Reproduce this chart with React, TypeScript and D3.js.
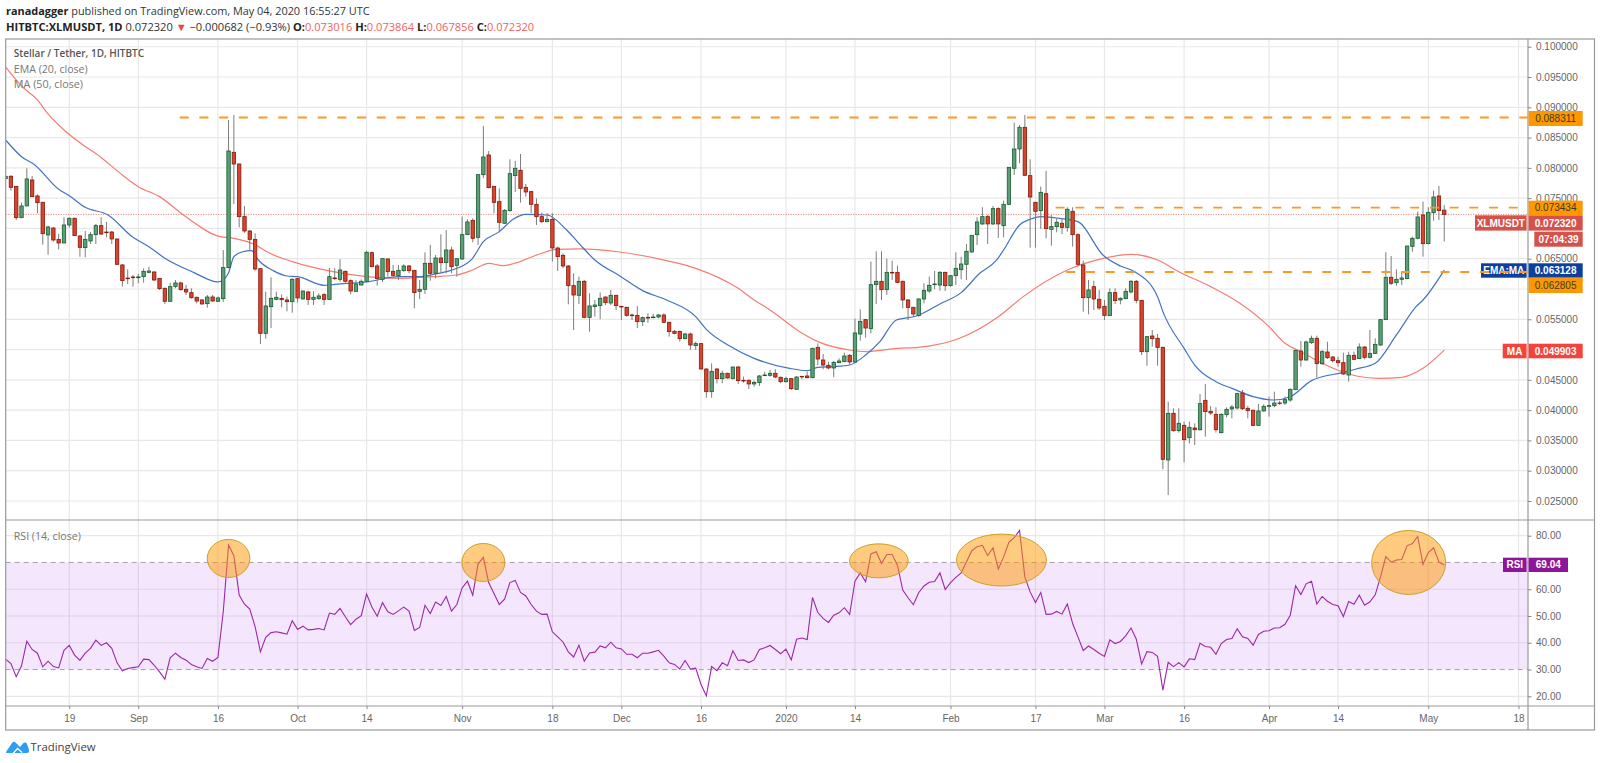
import React, { useEffect, useRef } from 'react';
import * as d3 from 'd3';

const WIDTH = 1600;
const HEIGHT = 763;

// candles run from day -12 (7 Aug 2019) to day 259 (4 May 2020); prices in thousandths of USDT
const FIRST_DAY = -12;

const opens = [
  78.22, 78.61, 76.95, 71.78, 73.71, 78.0, 75.36, 74.31, 68.92, 70.07,
  68.2, 67.6, 70.57, 71.67, 68.75, 66.83, 67.93, 68.97, 70.46, 69.41,
  69.41, 68.26, 63.97, 61.8, 61.98, 61.87, 62.04, 62.75, 62.81, 61.76,
  60.11, 57.97, 60.44, 61.0, 59.95, 59.4, 58.63, 58.19, 57.58, 58.68,
  57.97, 58.41, 63.53, 82.57, 80.64, 71.95, 69.58, 68.2, 63.36, 52.68,
  57.09, 58.29, 58.46, 58.19, 57.91, 61.71, 58.35, 59.51, 58.29, 58.41,
  59.07, 58.29, 61.82, 61.6, 62.92, 61.38, 59.62, 60.66, 61.27, 66.0,
  63.8, 61.6, 64.96, 62.92, 62.2, 63.03, 63.8, 63.08, 59.62, 59.95,
  64.24, 62.59, 65.12, 64.35, 66.44, 63.91, 64.96, 68.97, 71.34, 68.53,
  78.88, 82.13, 76.95, 74.42, 70.85, 72.94, 78.72, 79.6, 76.79, 76.07,
  73.98, 71.95, 71.12, 71.51, 66.77, 65.56, 63.8, 60.55, 58.96, 61.27,
  55.32, 57.09, 57.25, 58.68, 57.69, 58.96, 57.14, 56.97, 55.7, 55.65,
  54.61, 55.32, 55.27, 55.38, 55.71, 54.5, 53.01, 53.01, 51.8, 52.57,
  50.65, 50.98, 46.79, 43.05, 46.79, 45.2, 46.08, 45.2, 47.12, 44.92,
  44.92, 44.32, 44.54, 45.69, 45.75, 46.08, 45.42, 44.7, 45.2, 43.44,
  45.58, 45.64, 45.36, 50.37, 48.28, 47.4, 46.96, 47.84, 48.0, 49.05,
  47.95, 52.57, 54.94, 53.45, 60.72, 61.27, 59.89, 62.75, 62.75, 61.27,
  58.19, 56.97, 55.6, 58.35, 59.67, 60.72, 60.66, 62.75, 60.55, 62.2,
  63.19, 64.08, 66.11, 68.97, 70.74, 71.95, 70.74, 73.27, 70.46, 73.98,
  79.93, 83.12, 86.7, 78.72, 74.31, 72.94, 75.74, 69.85, 70.3, 70.85,
  70.18, 72.83, 68.97, 63.97, 58.57, 60.39, 58.3, 57.14, 55.6, 59.4,
  58.19, 58.41, 59.51, 61.27, 58.13, 49.65, 52.24, 51.86, 50.37, 31.77,
  39.47, 36.61, 37.49, 35.45, 37.05, 36.77, 41.62, 39.8, 39.31, 36.28,
  39.25, 40.19, 40.35, 42.83, 40.3, 39.97, 37.49, 39.86, 40.63, 40.74,
  41.18, 41.18, 41.67, 43.38, 49.76, 48.28, 51.14, 51.86, 47.67, 49.6,
  48.77, 48.17, 47.84, 45.8, 49.05, 48.5, 50.42, 48.72, 49.38, 50.75,
  54.94, 61.93, 61.05, 61.6, 61.71, 67.05, 68.37, 72.22, 67.49, 72.6,
  75.36, 73.016
];

const highs = [
  78.61, 78.8, 76.95, 74.26, 79.93, 78.66, 75.63, 74.4, 70.46, 70.2,
  69.08, 71.84, 71.84, 71.8, 68.9, 69.58, 69.41, 70.73, 71.84, 71.07,
  69.58, 68.3, 64.1, 63.25, 62.31, 62.48, 63.41, 63.69, 62.92, 61.8,
  60.28, 61.05, 61.49, 61.21, 60.66, 60.11, 58.74, 58.3, 59.01, 59.01,
  58.74, 66.44, 87.91, 88.73, 80.7, 73.71, 69.74, 69.19, 63.4, 59.56,
  61.93, 59.56, 59.12, 58.74, 61.76, 61.82, 59.73, 59.73, 59.62, 59.29,
  59.29, 63.47, 63.41, 64.9, 63.03, 61.6, 61.49, 61.6, 66.33, 66.17,
  64.13, 65.07, 65.07, 63.97, 63.97, 64.08, 63.97, 63.14, 61.49, 66.06,
  67.27, 65.62, 69.03, 69.74, 66.99, 65.07, 71.95, 71.51, 71.67, 78.9,
  86.92, 82.79, 76.95, 76.62, 73.21, 81.41, 81.14, 82.29, 77.34, 76.24,
  74.97, 72.61, 72.5, 72.5, 66.99, 65.89, 63.97, 62.59, 62.04, 61.49,
  59.29, 58.19, 59.4, 58.74, 59.84, 59.01, 57.2, 57.09, 55.98, 57.2,
  55.43, 55.98, 55.87, 55.87, 55.98, 54.61, 53.23, 53.12, 52.79, 52.79,
  51.31, 51.03, 46.9, 47.73, 46.9, 46.52, 46.19, 47.18, 47.29, 45.53,
  45.09, 44.87, 45.8, 46.35, 46.63, 46.74, 45.53, 45.53, 45.31, 45.58,
  45.64, 46.35, 50.31, 51.03, 49.27, 48.0, 48.11, 48.55, 49.49, 49.27,
  55.1, 56.64, 55.05, 64.52, 66.22, 66.22, 65.01, 64.68, 63.85, 61.38,
  58.3, 57.09, 58.46, 60.94, 62.04, 62.97, 62.97, 62.86, 62.31, 66.06,
  65.34, 67.43, 68.92, 71.84, 73.49, 72.22, 73.71, 73.49, 74.59, 80.09,
  87.47, 87.08, 88.73, 81.41, 74.42, 76.9, 79.49, 72.22, 71.67, 71.51,
  73.49, 73.49, 69.19, 64.68, 61.49, 61.38, 59.84, 58.19, 60.11, 60.11,
  58.63, 60.11, 61.49, 61.49, 58.19, 52.24, 53.23, 52.57, 50.48, 41.4,
  40.3, 40.3, 38.1, 38.1, 37.82, 42.66, 44.31, 40.68, 40.46, 39.47,
  40.46, 40.85, 42.88, 43.32, 40.68, 40.13, 41.01, 40.96, 42.22, 43.05,
  41.56, 42.22, 43.6, 49.93, 51.41, 51.47, 52.3, 52.3, 49.93, 51.3,
  48.94, 48.83, 49.49, 49.65, 49.65, 51.03, 50.59, 53.23, 51.86, 55.0,
  66.06, 65.45, 63.25, 62.86, 67.1, 68.64, 72.77, 74.42, 73.49, 76.24,
  77.01, 73.864
];

const lows = [
  78.1, 76.24, 71.4, 71.7, 73.7, 75.25, 72.5, 67.32, 65.67, 67.82,
  66.55, 67.6, 70.13, 68.8, 65.34, 65.23, 67.43, 67.43, 68.92, 68.53,
  67.43, 63.97, 60.39, 60.83, 60.39, 60.94, 61.05, 62.59, 61.32, 59.84,
  57.53, 57.86, 60.11, 59.73, 59.01, 58.41, 57.64, 57.42, 56.92, 57.86,
  57.91, 57.86, 63.41, 74.04, 70.18, 69.3, 66.44, 63.03, 50.92, 51.8,
  53.56, 58.19, 56.97, 56.31, 56.09, 57.75, 58.29, 57.36, 57.36, 58.19,
  57.36, 58.19, 61.49, 61.21, 61.05, 59.12, 59.51, 60.61, 61.16, 63.58,
  60.55, 61.16, 62.04, 62.04, 61.49, 62.86, 62.59, 56.81, 58.35, 59.18,
  61.38, 61.76, 62.7, 62.59, 62.59, 62.04, 64.79, 68.92, 67.71, 67.27,
  78.33, 76.62, 72.5, 69.36, 70.74, 72.77, 76.02, 74.26, 75.25, 72.5,
  70.57, 70.85, 71.01, 64.52, 62.97, 63.41, 57.47, 53.23, 57.53, 55.16,
  52.96, 55.43, 55.0, 57.36, 57.36, 56.53, 54.88, 55.43, 54.88, 53.56,
  53.89, 54.44, 55.16, 55.16, 54.44, 52.13, 52.52, 51.31, 51.69, 49.93,
  49.93, 46.74, 42.06, 42.06, 44.43, 44.43, 45.2, 45.09, 44.32, 44.54,
  43.49, 43.88, 43.98, 45.64, 45.53, 45.25, 44.43, 44.54, 43.32, 43.32,
  45.09, 45.25, 45.25, 47.45, 46.74, 46.74, 45.42, 47.73, 47.95, 47.45,
  47.84, 51.47, 51.97, 52.68, 57.53, 58.19, 59.01, 61.49, 60.94, 56.81,
  54.88, 55.43, 55.43, 57.64, 59.4, 59.95, 59.73, 59.67, 60.39, 60.66,
  61.6, 61.49, 66.0, 67.27, 70.57, 67.43, 70.57, 68.42, 68.53, 73.87,
  78.83, 80.75, 78.66, 66.83, 66.83, 69.91, 68.37, 67.16, 69.36, 69.08,
  69.47, 66.99, 63.8, 56.26, 55.82, 56.53, 56.53, 54.88, 55.54, 57.53,
  57.47, 58.3, 59.29, 57.64, 49.1, 47.34, 50.48, 47.34, 30.23, 25.99,
  36.44, 36.28, 31.38, 34.52, 34.24, 36.61, 35.62, 39.2, 36.28, 36.17,
  38.81, 38.64, 40.13, 40.02, 38.64, 37.38, 37.38, 39.75, 38.92, 40.46,
  40.85, 40.85, 41.4, 43.32, 47.18, 48.17, 50.92, 45.36, 47.45, 48.44,
  47.84, 47.18, 45.8, 44.7, 48.28, 48.44, 48.39, 48.55, 49.27, 50.64,
  54.88, 60.66, 60.55, 60.66, 61.6, 66.17, 68.2, 65.34, 67.38, 71.28,
  71.39, 67.856
];

const closes = [
  78.61, 76.79, 71.78, 73.71, 78.17, 75.25, 74.26, 69.14, 70.24, 68.09,
  67.6, 70.57, 71.67, 68.81, 66.88, 68.2, 68.97, 70.46, 69.08, 69.3,
  68.26, 64.08, 61.38, 61.7, 61.87, 62.0, 62.92, 62.97, 61.49, 60.06,
  57.97, 60.39, 61.0, 59.89, 59.51, 58.57, 58.02, 57.53, 58.68, 58.02,
  58.52, 63.53, 82.79, 80.64, 71.95, 69.58, 68.2, 63.3, 52.68, 57.2,
  58.46, 58.63, 58.24, 57.91, 61.6, 58.52, 59.67, 58.29, 58.63, 58.85,
  58.29, 62.04, 61.71, 63.14, 61.27, 59.67, 60.83, 61.27, 66.06, 63.69,
  61.71, 65.01, 62.86, 62.26, 63.08, 63.8, 63.03, 59.4, 59.95, 64.24,
  62.59, 65.12, 64.35, 66.44, 63.69, 65.01, 68.97, 71.07, 68.37, 78.88,
  81.8, 76.73, 74.31, 71.01, 72.99, 79.05, 79.93, 76.62, 76.02, 73.98,
  71.95, 71.12, 71.51, 66.77, 65.34, 63.8, 60.55, 59.01, 61.27, 55.32,
  57.2, 57.36, 58.46, 57.75, 58.96, 57.25, 57.03, 55.65, 55.6, 54.61,
  55.27, 55.21, 55.38, 55.71, 54.5, 52.96, 52.68, 51.8, 52.57, 50.76,
  50.98, 46.79, 43.05, 46.41, 45.2, 46.08, 45.31, 47.12, 44.87, 44.81,
  44.32, 44.59, 45.64, 45.8, 46.08, 45.47, 44.7, 45.2, 43.55, 45.47,
  45.53, 45.36, 50.2, 48.44, 47.45, 46.96, 47.89, 48.11, 48.94, 47.95,
  52.74, 54.66, 53.56, 60.72, 61.27, 59.89, 62.75, 62.7, 61.1, 58.19,
  56.97, 55.87, 58.35, 59.78, 60.61, 60.83, 62.75, 60.55, 62.2, 63.41,
  64.13, 66.22, 68.86, 71.07, 71.95, 70.74, 73.27, 70.74, 73.98, 80.09,
  83.12, 86.7, 78.77, 75.19, 72.83, 75.96, 69.97, 70.3, 71.01, 70.18,
  73.16, 68.97, 64.08, 58.57, 59.84, 58.35, 56.87, 55.65, 59.4, 58.08,
  58.46, 59.62, 61.27, 58.13, 49.65, 52.13, 51.8, 50.37, 31.88, 39.47,
  36.61, 37.82, 35.12, 37.16, 36.77, 41.07, 39.75, 39.53, 36.77, 39.31,
  40.13, 40.52, 42.72, 40.24, 39.91, 37.49, 39.86, 40.63, 40.74, 41.18,
  41.12, 41.73, 43.43, 49.87, 48.28, 51.25, 51.86, 47.67, 49.65, 48.66,
  48.17, 47.84, 45.97, 49.05, 48.39, 50.42, 48.72, 49.38, 50.86, 54.94,
  61.93, 60.94, 61.6, 61.82, 67.1, 68.37, 71.89, 67.49, 72.66, 75.19,
  72.94, 72.32
];

const rsiValues = [
  33.9, 32.2, 27.3, 31.4, 40.6, 37.5, 36.1, 31.0, 33.1, 31.1,
  30.6, 37.2, 39.0, 35.4, 33.4, 36.1, 37.9, 41.0, 39.0, 40.0,
  37.9, 32.5, 29.5, 30.4, 30.7, 31.0, 33.9, 33.7, 31.6, 29.1,
  26.4, 34.4, 36.1, 34.5, 33.5, 31.9, 31.0, 30.4, 34.1, 33.1,
  34.5, 51.6, 76.5, 72.5, 57.8, 54.4, 52.6, 46.0, 36.6, 42.0,
  43.8, 44.1, 43.7, 43.2, 48.2, 45.0, 46.2, 44.8, 45.0, 45.3,
  44.8, 51.1, 50.6, 52.8, 49.7, 46.8, 48.8, 50.1, 58.2, 53.4,
  49.9, 55.0, 51.6, 50.6, 51.9, 53.3, 51.8, 44.6, 45.7, 54.0,
  50.9, 55.2, 53.9, 57.3, 51.8, 54.3, 60.5, 63.0, 57.8, 69.4,
  71.9, 62.5, 58.4, 54.3, 56.3, 62.5, 63.3, 58.8, 57.5, 54.3,
  51.8, 50.6, 50.7, 44.1, 42.2, 40.3, 36.6, 34.7, 39.1, 33.1,
  36.2, 36.5, 38.8, 38.1, 40.2, 38.1, 37.7, 35.7, 35.7, 34.4,
  36.1, 36.1, 36.6, 37.2, 35.0, 32.5, 31.9, 30.2, 33.4, 30.2,
  30.5, 24.4, 20.2, 31.1, 29.6, 32.5, 31.4, 37.0, 33.4, 33.6,
  32.6, 33.6, 37.5, 38.1, 39.0, 37.5, 35.9, 37.6, 33.6, 41.3,
  41.8, 41.2, 56.9, 51.3, 49.1, 47.6, 50.3, 51.2, 53.1, 50.6,
  63.0, 66.1, 62.8, 73.2, 74.0, 69.6, 73.0, 73.0, 69.0, 59.7,
  56.8, 54.2, 58.7, 61.2, 62.6, 62.9, 66.1, 59.9, 62.5, 64.4,
  66.1, 70.2, 74.4, 75.9, 76.4, 72.6, 75.5, 67.5, 72.1, 77.5,
  79.3, 82.0, 64.6, 59.0, 55.0, 58.8, 50.6, 50.7, 51.7, 50.7,
  54.5, 47.2, 42.2, 37.1, 38.8, 37.5, 36.1, 34.9, 41.1, 39.7,
  40.5, 42.6, 45.5, 41.3, 32.1, 36.7, 36.4, 34.9, 22.3, 32.7,
  31.1, 32.6, 31.0, 34.0, 33.7, 39.8, 38.6, 38.3, 35.7, 39.7,
  41.2, 41.6, 45.2, 42.2, 41.6, 39.1, 43.1, 44.3, 44.5, 45.5,
  45.6, 46.9, 50.3, 61.3, 58.0, 62.0, 63.0, 54.5, 57.3, 55.5,
  54.3, 53.8, 49.8, 55.4, 54.4, 57.8, 54.0, 55.3, 57.9, 64.6,
  72.2, 70.1, 70.9, 71.1, 76.2, 77.1, 79.7, 69.3, 73.7, 75.5,
  70.2, 69.04
];

// moving averages at their bends: [day, price]
const emaPoints: [number, number][] = [
  [-12, 84.6], [-9, 81.85], [-6.5, 80.48], [-2, 76.46], [0, 75.41], [3, 73.49], [7.3, 72.22], [12, 68.53],
  [15, 66.99], [18, 65.07], [23.4, 62.75], [28, 61.16], [29, 61.49], [30, 62.7], [31, 65.34], [32.5, 66.11],
  [34.3, 66.33], [35.6, 64.79], [38.4, 63.03], [41, 62.15], [43, 62.04], [48, 60.61], [50, 60.77], [56, 61.16],
  [62, 62.04], [66, 62.04], [69, 62.48], [71.7, 63.03], [75.8, 64.9], [78, 67.82], [81, 69.47], [83.6, 71.51],
  [86, 72.33], [90, 72.22], [93.7, 69.74], [96, 67.54], [99, 64.79], [103.7, 62.15], [108, 59.73], [112.5, 58.19],
  [118, 55.43], [120, 53.34], [124.4, 50.59], [129, 48.55], [135.7, 46.9], [139, 46.52], [141, 47.07], [144, 47.18],
  [147, 47.45], [150, 49.1], [152.7, 51.31], [155.8, 54.88], [159.6, 55.54], [164, 57.53], [168, 59.4], [171.5, 62.59],
  [174.7, 64.79], [176, 66.44], [179, 70.57], [181, 71.51], [183, 71.95], [186.5, 71.67], [190, 71.12], [194.7, 65.62],
  [198, 63.8], [200.7, 62.86], [205, 58.74], [206, 56.26], [210, 50.2], [212, 47.45], [216, 44.7], [219, 43.6],
  [223, 42.22], [226.8, 41.67], [230, 42.22], [234, 44.87], [240, 46.24], [242.4, 46.79], [246, 47.73], [250, 52.41],
  [253.7, 57.08], [255, 58.18], [259, 63.128]
];

const maPoints: [number, number][] = [
  [-12, 96.66], [-9, 93.52], [-6, 91.21], [-4, 88.9], [-1, 86.26], [2.6, 83.78], [5.8, 81.85], [10, 78.83],
  [13, 76.9], [17, 75.25], [21.5, 72.22], [28.4, 68.64], [31, 68.37], [34.7, 67.43], [37.8, 65.89], [42, 64.52],
  [49.7, 62.86], [56, 62.04], [62, 61.76], [68.5, 62.04], [73, 62.31], [76, 63.14], [79, 64.24], [81.7, 63.85],
  [84.3, 64.35], [88.6, 65.78], [91.8, 66.55], [96, 66.61], [103.7, 66.11], [112.5, 64.68], [118, 63.41], [126, 60.11],
  [129, 58.19], [132, 56.53], [137.6, 52.96], [141, 51.31], [147, 49.93], [150, 49.65], [156, 50.2], [160, 50.37],
  [167.7, 51.86], [175, 55.43], [179.7, 58.74], [188, 63.14], [194, 64.9], [200, 65.73], [205, 64.79], [209, 62.86],
  [215, 60.39], [220.5, 57.63], [226, 53.78], [229, 51.03], [232, 49.65], [236, 47.73], [241, 45.97], [246.8, 45.25],
  [251, 45.42], [255, 46.9], [259, 49.903]
];

const priceTicks = [100, 95, 90, 85, 80, 75, 70, 65, 60, 55, 50, 45, 40, 35, 30, 25];
// these sit behind the price tags, so the axis shows no label for them
const hiddenPriceLabels = [70, 60, 50];
const rsiTicks = [80, 70, 60, 50, 40, 30, 20];
const timeTickDays = [0, 13, 28, 43, 56, 74, 91, 104, 119, 135, 148, 166, 182, 195, 210, 226, 239, 256, 273];
const timeTickLabels = ['19', 'Sep', '16', 'Oct', '14', 'Nov', '18', 'Dec', '16', '2020', '14', 'Feb', '17', 'Mar', '16', 'Apr', '14', 'May', '18'];

// horizontal levels drawn by the author: price and the day they start on
const levelPrices = [88.311, 73.434, 62.805];
const levelStartDays = [20.8, 185.8, 187.8];

// overbought circles on the RSI pane: centre day, centre RSI, radii in px
const circleDays = [30, 78, 152.5, 175.6, 252.3];
const circleRsi = [71.5, 70, 70.6, 70.9, 70];
const circleRx = [21.3, 21.5, 29.3, 45, 37];
const circleRy = [19, 19, 17, 26, 32];

const FONT = '"Open Sans", "Liberation Sans", sans-serif';
const AXIS_FONT = '"Liberation Sans", Arial, sans-serif';

export default function App() {
  const svgRef = useRef<SVGSVGElement>(null);

  useEffect(() => {
    if (!svgRef.current) return;
    const svg = d3.select(svgRef.current);
    svg.selectAll('*').remove();

    const left = 5.7;
    const right = 1594.5;
    const axisX = 1528;
    const top = 39;
    const paneSplit = 520;
    const timeLine = 706;
    const bottom = 730;

    const x = d3.scaleLinear().domain([0, 256]).range([69.3, 1428.3]);
    const y = d3.scaleLinear().domain([30, 90]).range([470.7, 107.3]);
    const yRsi = d3.scaleLinear().domain([20, 80]).range([696.3, 535.7]);

    svg.append('rect').attr('width', WIDTH).attr('height', HEIGHT).attr('fill', '#fff');

    const defs = svg.append('defs');
    defs.append('clipPath').attr('id', 'main-clip').append('rect')
      .attr('x', left).attr('y', top).attr('width', axisX - left).attr('height', paneSplit - top);
    defs.append('clipPath').attr('id', 'rsi-clip').append('rect')
      .attr('x', left).attr('y', paneSplit).attr('width', axisX - left).attr('height', timeLine - paneSplit);

    // grid
    const grid = svg.append('g').attr('stroke', '#e8e8e8').attr('stroke-width', 1.2);
    grid.selectAll('.v').data(timeTickDays).enter().append('line')
      .attr('x1', d => x(d)).attr('x2', d => x(d)).attr('y1', top).attr('y2', timeLine);
    grid.selectAll('.h').data(priceTicks).enter().append('line')
      .attr('x1', left).attr('x2', axisX).attr('y1', d => y(d)).attr('y2', d => y(d));
    grid.selectAll('.r').data(rsiTicks.filter(d => d !== 70 && d !== 30)).enter().append('line')
      .attr('x1', left).attr('x2', axisX).attr('y1', d => yRsi(d)).attr('y2', d => yRsi(d));

    // RSI band
    svg.append('rect')
      .attr('x', left).attr('width', axisX - left)
      .attr('y', yRsi(70)).attr('height', yRsi(30) - yRsi(70))
      .attr('fill', '#9c27f0').attr('fill-opacity', 0.115);
    svg.append('g').selectAll('line').data([70, 30]).enter().append('line')
      .attr('x1', left).attr('x2', axisX).attr('y1', d => yRsi(d)).attr('y2', d => yRsi(d))
      .attr('stroke', '#a8a0ac').attr('stroke-dasharray', '5 4').attr('stroke-width', 1);

    const main = svg.append('g').attr('clip-path', 'url(#main-clip)');

    // last price line
    main.append('line')
      .attr('x1', left).attr('x2', axisX).attr('y1', y(72.32)).attr('y2', y(72.32))
      .attr('stroke', '#e57368').attr('stroke-dasharray', '1 1.5').attr('stroke-width', 1);

    // moving averages
    const line = d3.line<[number, number]>().x(d => x(d[0])).y(d => y(d[1])).curve(d3.curveMonotoneX);
    main.append('path').attr('d', line(maPoints)).attr('fill', 'none').attr('stroke', '#f77c72').attr('stroke-width', 1.2);
    main.append('path').attr('d', line(emaPoints)).attr('fill', 'none').attr('stroke', '#4472c0').attr('stroke-width', 1.2);

    // candles
    const candles = main.append('g').selectAll('g').data(opens).enter().append('g');
    const dayOf = (i: number) => i + FIRST_DAY;
    candles.append('line')
      .attr('x1', (_, i) => x(dayOf(i))).attr('x2', (_, i) => x(dayOf(i)))
      .attr('y1', (_, i) => y(highs[i])).attr('y2', (_, i) => y(lows[i]))
      .attr('stroke', '#7d7d7d').attr('stroke-width', 1);
    const bodyWidth = 3.4;
    candles.append('rect')
      .attr('x', (_, i) => x(dayOf(i)) - bodyWidth / 2)
      .attr('width', bodyWidth)
      .attr('y', (_, i) => y(Math.max(opens[i], closes[i])))
      .attr('height', (_, i) => Math.max(Math.abs(y(opens[i]) - y(closes[i])), 0.6))
      .attr('fill', (_, i) => (closes[i] >= opens[i] ? '#609c78' : '#d4462f'))
      .attr('stroke', (_, i) => (closes[i] >= opens[i] ? '#12602e' : '#8a1708'))
      .attr('stroke-width', 0.8);

    // RSI line and circles
    const rsiPane = svg.append('g').attr('clip-path', 'url(#rsi-clip)');
    const rsiLine = d3.line<number>().x((_, i) => x(dayOf(i))).y(d => yRsi(d));
    rsiPane.append('path').attr('d', rsiLine(rsiValues)).attr('fill', 'none').attr('stroke', '#9c27a8').attr('stroke-width', 1.1);
    rsiPane.selectAll('ellipse').data(circleDays).enter().append('ellipse')
      .attr('cx', d => x(d))
      .attr('cy', (_, i) => yRsi(circleRsi[i]))
      .attr('rx', (_, i) => circleRx[i])
      .attr('ry', (_, i) => circleRy[i])
      .attr('fill', '#ff9800').attr('fill-opacity', 0.5)
      .attr('stroke', '#c9a227').attr('stroke-width', 1);

    // frame
    const frame = svg.append('g').attr('stroke', '#999').attr('stroke-width', 1.2).attr('fill', 'none');
    frame.append('rect').attr('x', left).attr('y', top).attr('width', right - left).attr('height', bottom - top);
    frame.append('line').attr('x1', left).attr('x2', right).attr('y1', paneSplit).attr('y2', paneSplit);
    frame.append('line').attr('x1', left).attr('x2', right).attr('y1', timeLine).attr('y2', timeLine);
    frame.append('line').attr('x1', axisX).attr('x2', axisX).attr('y1', top).attr('y2', bottom);

    // axes
    const styleAxis = (g: any) => {
      g.select('.domain').remove();
      g.selectAll('.tick line').attr('stroke', '#888');
      g.selectAll('.tick text').attr('fill', '#666').attr('font-size', 10).attr('font-family', AXIS_FONT);
    };
    svg.append('g').attr('transform', `translate(${axisX},0)`)
      .call(d3.axisRight(y).tickValues(priceTicks.filter(d => !hiddenPriceLabels.includes(d)))
        .tickSize(3.5).tickPadding(4.5).tickFormat(d => (+d / 1000).toFixed(6)))
      .call(styleAxis);
    svg.append('g').attr('transform', `translate(${axisX},0)`)
      .call(d3.axisRight(yRsi).tickValues(rsiTicks.filter(d => d !== 70))
        .tickSize(3.5).tickPadding(4.5).tickFormat(d => (+d).toFixed(2)))
      .call(styleAxis);
    svg.append('g').attr('transform', `translate(0,${timeLine})`)
      .call(d3.axisBottom(x).tickValues(timeTickDays).tickSize(3).tickPadding(6)
        .tickFormat((_, i) => timeTickLabels[i]))
      .call(styleAxis);

    // price labels on the axis
    const valueBox = (boxTop: number, h: number, boxLeft: number, boxRight: number, fill: string, color: string, label: string) => {
      svg.append('rect').attr('x', boxLeft).attr('y', boxTop).attr('width', boxRight - boxLeft).attr('height', h)
        .attr('fill', fill);
      svg.append('text').attr('x', (boxLeft + boxRight) / 2).attr('y', boxTop + h / 2 + 3.6)
        .attr('text-anchor', 'middle').attr('fill', color).attr('font-size', 10)
        .attr('font-weight', color === '#fff' ? 700 : 400)
        .attr('font-family', AXIS_FONT).text(label);
    };
    const boxEnd = 1582.7;
    valueBox(111, 15, axisX + 0.6, boxEnd, '#ff9800', '#3a3a2a', '0.088311');
    valueBox(200.7, 14.3, axisX + 0.6, boxEnd, '#ff9800', '#3a3a2a', '0.073434');
    valueBox(215.3, 15.3, 1475, axisX - 1.4, '#d5524a', '#fff', 'XLMUSDT');
    valueBox(215.3, 15.3, axisX + 0.6, boxEnd, '#d5524a', '#fff', '0.072320');
    valueBox(231.7, 15, 1534.3, boxEnd, '#d5524a', '#fff', '07:04:39');
    valueBox(263.3, 14.4, 1481, axisX - 1.4, '#0d3f9e', '#fff', 'EMA:MA');
    valueBox(263.3, 14.4, axisX + 0.6, boxEnd, '#0d3f9e', '#fff', '0.063128');
    valueBox(277.7, 15.3, axisX + 0.6, boxEnd, '#ff9800', '#3a3a2a', '0.062805');
    valueBox(343.7, 14.6, 1502.7, axisX - 1.4, '#f5423a', '#fff', 'MA');
    valueBox(343.7, 14.6, axisX + 0.6, boxEnd, '#f5423a', '#fff', '0.049903');
    valueBox(557.7, 14.3, 1503, axisX - 1.4, '#8e1599', '#fff', 'RSI');
    valueBox(557.7, 14.3, axisX + 0.6, 1568, '#8e1599', '#fff', '69.04');

    // author's dashed levels, over the tags on the axis
    svg.append('g').selectAll('line').data(levelPrices).enter().append('line')
      .attr('x1', (_, i) => x(levelStartDays[i])).attr('x2', axisX)
      .attr('y1', d => y(d)).attr('y2', d => y(d))
      .attr('stroke', '#ff9822').attr('stroke-width', 1.9).attr('stroke-dasharray', '9 10.7');

    // pane legends
    const legend = (px: number, py: number, text: string, size: number, weight: number, color: string) =>
      svg.append('text').attr('x', px).attr('y', py).attr('font-family', FONT).attr('font-size', size)
        .attr('font-weight', weight).attr('fill', color).text(text);
    legend(13.8, 57, 'Stellar / Tether, 1D, HITBTC', 10, 600, '#555');
    legend(13.8, 72.5, 'EMA (20, close)', 10.6, 400, '#777');
    legend(13.8, 88, 'MA (50, close)', 10.8, 400, '#777');
    legend(13.8, 539.5, 'RSI (14, close)', 10.6, 400, '#777');

    // header
    const head1 = svg.append('text').attr('x', 6).attr('y', 14.8).attr('font-family', FONT).attr('font-size', 10.9).attr('fill', '#333');
    head1.append('tspan').attr('font-weight', 700).attr('fill', '#222').text('ranadagger');
    head1.append('tspan').text(' published on TradingView.com, May 04, 2020 16:55:27 UTC');
    const head2 = svg.append('text').attr('x', 6).attr('y', 30.5).attr('font-family', FONT).attr('font-size', 11.1).attr('fill', '#333');
    const span = (t: string, color = '#333', weight = 400) => head2.append('tspan').attr('fill', color).attr('font-weight', weight).text(t);
    const red = '#f0645c';
    span('HITBTC:XLMUSDT, 1D', '#222', 700);
    span(' 0.072320 ');
    span('▼', '#e5473c');
    span(' −0.000682 (−0.93%) ');
    span('O:', '#222', 700); span('0.073016 ', red);
    span('H:', '#222', 700); span('0.073864 ', red);
    span('L:', '#222', 700); span('0.067856 ', red);
    span('C:', '#222', 700); span('0.072320', red);

    // footer logo
    const logo = svg.append('g').attr('transform', 'translate(6,740)');
    logo.append('path')
      .attr('d', 'M0 13 Q0 11 2 9 L6 3 Q8 0.5 10 3 L14 7 L17 3.5 Q19.5 1.5 21 4 L23 10 Q23.5 13 21 13 Z')
      .attr('fill', '#2e9cf0');
    logo.append('path').attr('d', 'M7 13.5 L11.5 8.5 L16 12.5').attr('fill', 'none').attr('stroke', '#fff').attr('stroke-width', 1.4);
    svg.append('text').attr('x', 30.5).attr('y', 750.5).attr('font-family', FONT).attr('font-size', 11.4).attr('fill', '#444').text('TradingView');
  }, []);

  return (
    <svg
      ref={svgRef}
      width={WIDTH}
      height={HEIGHT}
      style={{ position: 'absolute', left: 0, top: 0, display: 'block' }}
    />
  );
}
